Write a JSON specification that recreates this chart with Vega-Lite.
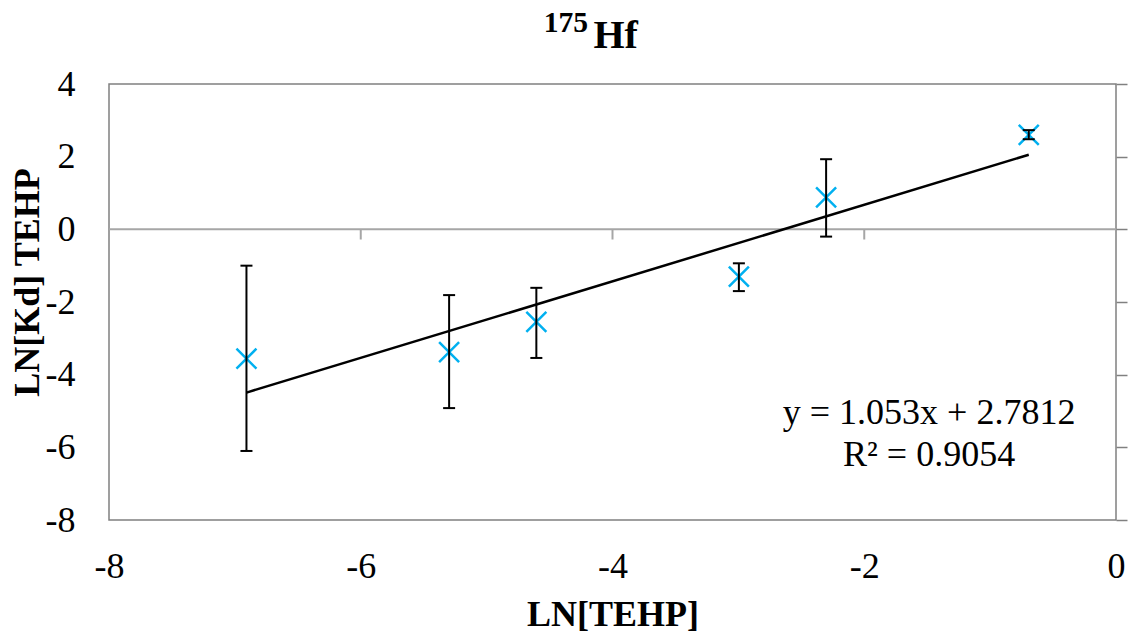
{
  "$schema": "https://vega.github.io/schema/vega-lite/v6.json",
  "autosize": {"type": "none"},
  "width": 1007,
  "height": 436,
  "padding": {"left": 109, "top": 84, "right": 17, "bottom": 116},
  "background": "white",
  "config": {
    "view": {"stroke": "#808080", "strokeWidth": 1.5},
    "font": "Liberation Serif",
    "axis": {
      "labelFont": "Liberation Serif",
      "labelFontSize": 36,
      "labelColor": "black",
      "labelFlush": false,
      "labelOverlap": false,
      "titleFont": "Liberation Serif",
      "titleFontSize": 36,
      "titleFontWeight": "bold",
      "titleColor": "black",
      "grid": false
    }
  },
  "datasets": {
    "points": [
      {"lnTEHP": -6.908, "lnKd": -3.56, "lo": -6.1, "hi": -1.0},
      {"lnTEHP": -5.298, "lnKd": -3.38, "lo": -4.92, "hi": -1.81},
      {"lnTEHP": -4.605, "lnKd": -2.55, "lo": -3.54, "hi": -1.61},
      {"lnTEHP": -2.996, "lnKd": -1.3, "lo": -1.7, "hi": -0.935},
      {"lnTEHP": -2.303, "lnKd": 0.88, "lo": -0.2, "hi": 1.93},
      {"lnTEHP": -0.693, "lnKd": 2.6, "lo": 2.48, "hi": 2.73}
    ],
    "trend": [
      {"lnTEHP": -6.908, "fit": -4.4929},
      {"lnTEHP": -0.693, "fit": 2.0515}
    ],
    "zeroTicks": [
      {"tx": -6, "ty": 0, "ty2": -0.28},
      {"tx": -4, "ty": 0, "ty2": -0.28},
      {"tx": -2, "ty": 0, "ty2": -0.28}
    ],
    "equation": [
      {"ex": -1.485, "ey": -5.055, "label": "y = 1.053x + 2.7812"},
      {"ex": -1.485, "ey": -6.21, "label": "R² = 0.9054"}
    ],
    "titleParts": [
      {"sx": -4.37, "sy": 5.43, "label": "175", "size": 31},
      {"sx": -3.975, "sy": 4.99, "label": "Hf", "size": 46}
    ]
  },
  "resolve": {"axis": {"x": "independent", "y": "independent"}},
  "layer": [
    {
      "data": {"name": "zeroTicks"},
      "mark": {"type": "rule", "color": "#a6a6a6", "strokeWidth": 2},
      "encoding": {
        "x": {"field": "tx", "type": "quantitative", "scale": {"domain": [-8, 0], "nice": false, "zero": false},
          "axis": {"orient": "bottom", "values": [-8, -6, -4, -2, 0], "labelExpr": "replace(datum.label, '−', '-')", "domain": false, "ticks": false, "tickSize": 0, "labelPadding": 29, "title": "LN[TEHP]", "titleBaseline": "alphabetic", "titleY": 105}},
        "y": {"field": "ty", "type": "quantitative", "scale": {"domain": [-8, 4], "nice": false, "zero": false},
          "axis": {"orient": "left", "values": [-8, -6, -4, -2, 0, 2, 4], "labelExpr": "replace(datum.label, '−', '-')", "domain": false, "ticks": false, "tickSize": 0, "labelPadding": 34, "title": "LN[Kd] TEHP", "titleAngle": -90, "titleBaseline": "alphabetic", "titleAlign": "center", "titleX": -71, "titleY": 198}},
        "y2": {"field": "ty2"}
      }
    },
    {
      "data": {"values": [{"z": 0}]},
      "mark": {"type": "rule", "color": "#a6a6a6", "strokeWidth": 2},
      "encoding": {
        "y": {"field": "z", "type": "quantitative", "scale": {"domain": [-8, 4], "nice": false, "zero": false},
          "axis": {"orient": "right", "values": [-8, -6, -4, -2, 0, 2, 4], "labels": false, "domain": false, "ticks": true, "tickSize": 11, "tickColor": "#808080", "tickWidth": 1.5, "title": null}}
      }
    },
    {
      "data": {"name": "points"},
      "mark": {"type": "point", "shape": "M-1,-1L1,1M-1,1L1,-1", "size": 400, "stroke": "#00b0f0", "strokeWidth": 2.5, "filled": false, "opacity": 1},
      "encoding": {
        "x": {"field": "lnTEHP", "type": "quantitative", "scale": {"domain": [-8, 0], "nice": false, "zero": false}, "axis": null},
        "y": {"field": "lnKd", "type": "quantitative", "scale": {"domain": [-8, 4], "nice": false, "zero": false}, "axis": null}
      }
    },
    {
      "data": {"name": "points"},
      "mark": {"type": "rule", "color": "black", "strokeWidth": 2},
      "encoding": {
        "x": {"field": "lnTEHP", "type": "quantitative", "scale": {"domain": [-8, 0], "nice": false, "zero": false}, "axis": null},
        "y": {"field": "lo", "type": "quantitative", "scale": {"domain": [-8, 4], "nice": false, "zero": false}, "axis": null},
        "y2": {"field": "hi"}
      }
    },
    {
      "data": {"name": "points"},
      "mark": {"type": "tick", "orient": "horizontal", "color": "black", "size": 12, "thickness": 2, "opacity": 1},
      "encoding": {
        "x": {"field": "lnTEHP", "type": "quantitative", "scale": {"domain": [-8, 0], "nice": false, "zero": false}, "axis": null},
        "y": {"field": "lo", "type": "quantitative", "scale": {"domain": [-8, 4], "nice": false, "zero": false}, "axis": null}
      }
    },
    {
      "data": {"name": "points"},
      "mark": {"type": "tick", "orient": "horizontal", "color": "black", "size": 12, "thickness": 2, "opacity": 1},
      "encoding": {
        "x": {"field": "lnTEHP", "type": "quantitative", "scale": {"domain": [-8, 0], "nice": false, "zero": false}, "axis": null},
        "y": {"field": "hi", "type": "quantitative", "scale": {"domain": [-8, 4], "nice": false, "zero": false}, "axis": null}
      }
    },
    {
      "data": {"name": "trend"},
      "mark": {"type": "line", "color": "black", "strokeWidth": 2.5},
      "encoding": {
        "x": {"field": "lnTEHP", "type": "quantitative", "scale": {"domain": [-8, 0], "nice": false, "zero": false}, "axis": null},
        "y": {"field": "fit", "type": "quantitative", "scale": {"domain": [-8, 4], "nice": false, "zero": false}, "axis": null}
      }
    },
    {
      "data": {"name": "equation"},
      "mark": {"type": "text", "font": "Liberation Serif", "fontSize": 36, "color": "black", "align": "center", "baseline": "middle"},
      "encoding": {
        "x": {"field": "ex", "type": "quantitative", "scale": {"domain": [-8, 0], "nice": false, "zero": false}, "axis": null},
        "y": {"field": "ey", "type": "quantitative", "scale": {"domain": [-8, 4], "nice": false, "zero": false}, "axis": null},
        "text": {"field": "label"}
      }
    },
    {
      "data": {"name": "titleParts"},
      "mark": {"type": "text", "font": "Liberation Serif", "fontWeight": "bold", "color": "black", "align": "center", "baseline": "alphabetic"},
      "encoding": {
        "x": {"field": "sx", "type": "quantitative", "scale": {"domain": [-8, 0], "nice": false, "zero": false}, "axis": null},
        "y": {"field": "sy", "type": "quantitative", "scale": {"domain": [-8, 4], "nice": false, "zero": false}, "axis": null},
        "size": {"field": "size", "type": "quantitative", "scale": {"type": "identity"}, "legend": null},
        "text": {"field": "label"}
      }
    }
  ]
}
